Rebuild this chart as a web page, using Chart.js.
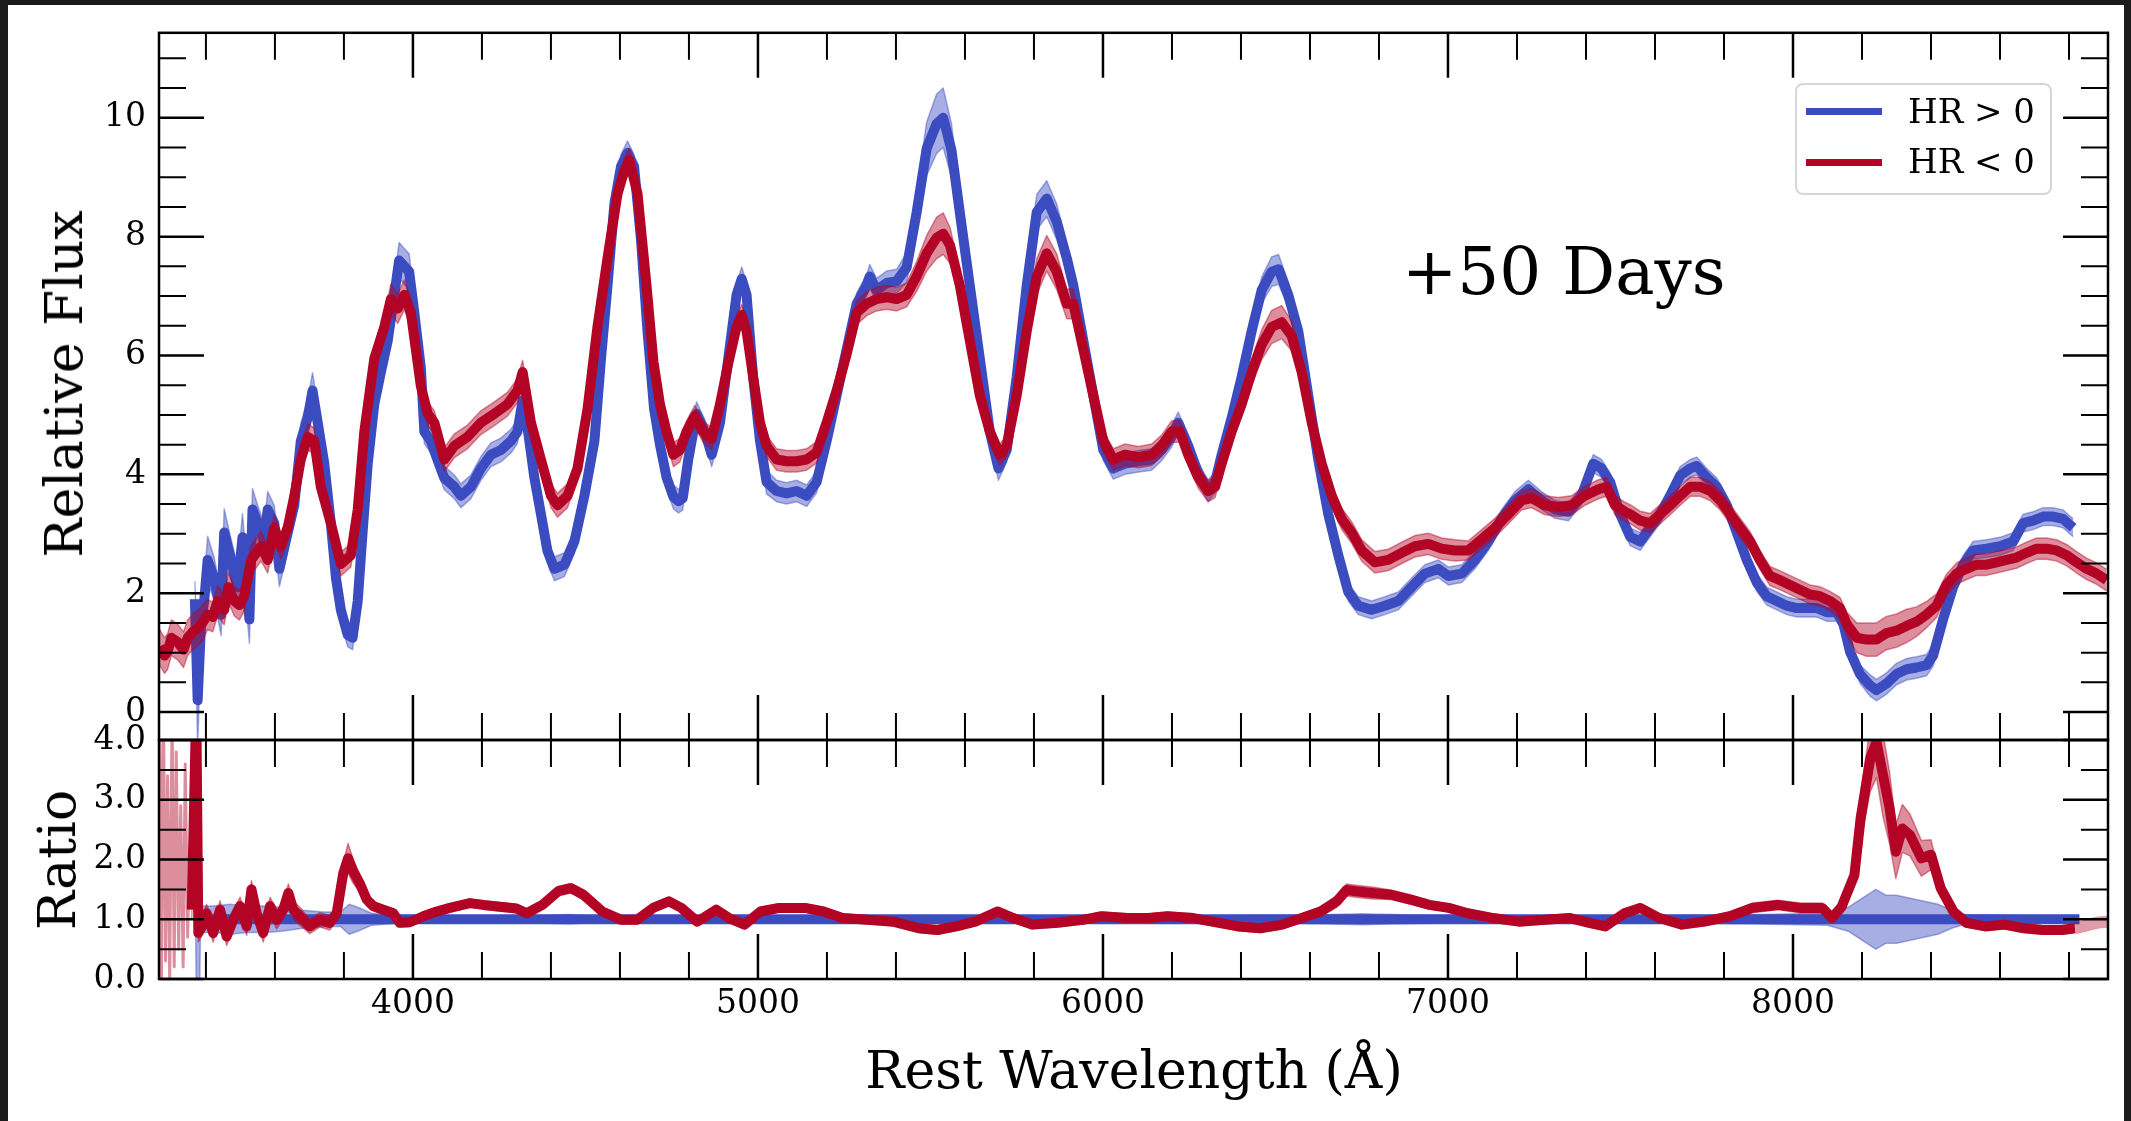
<!DOCTYPE html>
<html>
<head>
<meta charset="utf-8">
<title>+50 Days — HR &gt; 0 vs HR &lt; 0</title>
<script src="https://cdn.jsdelivr.net/npm/chart.js@4.4.2/dist/chart.umd.min.js"></script>
<style>
  html, body { margin: 0; padding: 0; width: 2131px; height: 1121px; overflow: hidden; background: #1b1b1b; }
  #paper { position: absolute; left: 8px; top: 5px; width: 2116px; height: 1116px; background: #fff; }
  canvas { position: absolute; left: 0; top: 0; }
  .txt { position: absolute; font-family: "DejaVu Serif", serif; color: #000; line-height: 1; white-space: nowrap; }
  .ylab { font-size: 52px; transform: translate(-50%, -50%) rotate(-90deg); }
  #legend { position: absolute; left: 1795px; top: 83px; width: 257px; height: 112px; box-sizing: border-box;
            border: 2.5px solid #d6d6d6; border-radius: 8px; background: rgba(255,255,255,0.8); }
  .swatch { position: absolute; left: 1806px; width: 76px; height: 7px; }
</style>
</head>
<body>
<div id="paper"></div>
<canvas id="fluxChart" width="2131" height="1121"></canvas>
<canvas id="ratioChart" width="2131" height="1121"></canvas>

<div class="txt ylab" style="left:64px; top:384px;">Relative Flux</div>
<div class="txt ylab" style="left:57px; top:860px;">Ratio</div>
<div class="txt" style="font-size:52px; left:1134px; top:1044px; transform:translateX(-50%);">Rest Wavelength (Å)</div>
<div class="txt" style="font-size:66px; left:1402px; top:239px;">+50 Days</div>

<div id="legend"></div>
<div class="swatch" style="top:108px; background:#3b4cc0;"></div>
<div class="swatch" style="top:159px; background:#b40426;"></div>
<div class="txt" style="font-size:34px; left:1908px; top:94px;">HR &gt; 0</div>
<div class="txt" style="font-size:34px; left:1908px; top:144px;">HR &lt; 0</div>

<script>
// ---- axis ticks -----------------------------------------------------------
const X_MIN = 3264, X_MAX = 8913;
const X_MAJOR = [4000, 5000, 6000, 7000, 8000];
const X_MINOR = [3400, 3600, 3800, 4200, 4400, 4600, 4800, 5200, 5400, 5600, 5800,
                 6200, 6400, 6600, 6800, 7200, 7400, 7600, 7800, 8200, 8400, 8600, 8800];
const FLUX_MAJOR = [0, 2, 4, 6, 8, 10];
const FLUX_MINOR = [0.5, 1, 1.5, 2.5, 3, 3.5, 4.5, 5, 5.5, 6.5, 7, 7.5, 8.5, 9, 9.5, 10.5, 11];
const RATIO_MAJOR = [0, 1, 2, 3, 4];
const RATIO_MINOR = [0.5, 1.5, 2.5, 3.5];

// ---- HR > 0 mean spectrum (blue) ------------------------------------------
const waveBlue = [
  3368, 3376, 3386, 3395, 3405, 3424, 3444, 3453, 3473, 3492,
  3506, 3526, 3535, 3550, 3569, 3579, 3598, 3613, 3637, 3656,
  3675, 3695, 3709, 3724, 3743, 3762, 3777, 3791, 3811, 3825,
  3840, 3854, 3869, 3888, 3907, 3927, 3946, 3960, 3975, 3989,
  4004, 4023, 4033, 4052, 4071, 4091, 4120, 4139, 4168, 4197,
  4226, 4255, 4284, 4303, 4318, 4332, 4352, 4371, 4390, 4410,
  4439, 4468, 4497, 4526, 4545, 4564, 4584, 4603, 4622, 4641,
  4661, 4680, 4699, 4716, 4735, 4755, 4770, 4782, 4798, 4822,
  4846, 4866, 4890, 4914, 4938, 4953, 4967, 4986, 5006, 5025,
  5054, 5083, 5112, 5141, 5170, 5199, 5228, 5257, 5286, 5315,
  5324, 5344, 5373, 5402, 5431, 5460, 5489, 5518, 5537, 5561,
  5585, 5614, 5643, 5672, 5697, 5721, 5750, 5779, 5808, 5837,
  5866, 5895, 5914, 5943, 5972, 6001, 6030, 6064, 6103, 6141,
  6170, 6199, 6218, 6247, 6276, 6305, 6325, 6344, 6373, 6402,
  6431, 6460, 6489, 6509, 6537, 6566, 6595, 6624, 6653, 6682,
  6711, 6740, 6779, 6817, 6856, 6894, 6933, 6972, 7001, 7040,
  7078, 7117, 7155, 7194, 7233, 7271, 7310, 7349, 7387, 7421,
  7445, 7470, 7499, 7528, 7557, 7586, 7615, 7644, 7673, 7702,
  7721, 7750, 7779, 7808, 7837, 7866, 7895, 7924, 7953, 7982,
  8011, 8040, 8069, 8098, 8127, 8146, 8165, 8194, 8223, 8242,
  8271, 8300, 8329, 8358, 8387, 8406, 8435, 8464, 8493, 8522,
  8561, 8600, 8638, 8667, 8696, 8725, 8754, 8783, 8812
];
const fluxBlue = [
  1.90, 0.20, 1.50, 1.87, 2.56, 2.25, 1.64, 3.02, 2.56, 2.10,
  2.94, 1.56, 3.41, 3.18, 2.87, 3.41, 3.18, 2.41, 3.02, 3.48,
  4.56, 4.95, 5.41, 4.87, 4.18, 3.18, 2.25, 1.72, 1.30, 1.25,
  1.87, 3.02, 4.18, 5.18, 5.72, 6.25, 7.02, 7.60, 7.50, 7.41,
  6.72, 5.79, 4.72, 4.56, 4.25, 3.94, 3.79, 3.64, 3.79, 4.10,
  4.33, 4.41, 4.56, 4.72, 5.25, 4.79, 3.94, 3.33, 2.71, 2.41,
  2.48, 2.87, 3.64, 4.56, 5.94, 7.18, 8.56, 9.18, 9.41, 9.18,
  7.95, 6.40, 5.10, 4.50, 3.95, 3.62, 3.55, 3.60, 4.25, 5.02,
  4.72, 4.33, 4.87, 5.95, 7.02, 7.29, 7.02, 5.64, 4.56, 3.87,
  3.72, 3.68, 3.72, 3.64, 3.87, 4.56, 5.33, 6.10, 6.87, 7.18,
  7.33, 7.10, 7.22, 7.25, 7.48, 8.41, 9.48, 9.90, 10.00, 9.45,
  8.41, 7.18, 5.95, 4.72, 4.10, 4.41, 5.64, 7.18, 8.41, 8.64,
  8.25, 7.64, 7.18, 6.25, 5.33, 4.41, 4.10, 4.18, 4.22, 4.25,
  4.41, 4.64, 4.87, 4.48, 4.02, 3.72, 3.87, 4.33, 4.95, 5.64,
  6.41, 7.10, 7.41, 7.45, 7.02, 6.41, 5.33, 4.25, 3.33, 2.64,
  2.02, 1.79, 1.72, 1.79, 1.87, 2.10, 2.33, 2.41, 2.29, 2.33,
  2.56, 2.87, 3.25, 3.56, 3.75, 3.56, 3.41, 3.37, 3.64, 4.18,
  4.10, 3.87, 3.33, 2.95, 2.87, 3.10, 3.33, 3.64, 3.98, 4.10,
  4.14, 3.95, 3.79, 3.48, 3.02, 2.56, 2.18, 1.95, 1.87, 1.79,
  1.75, 1.75, 1.75, 1.68, 1.68, 1.48, 1.02, 0.64, 0.45, 0.37,
  0.48, 0.64, 0.72, 0.75, 0.79, 0.95, 1.56, 2.10, 2.48, 2.72,
  2.75, 2.79, 2.87, 3.18, 3.22, 3.29, 3.29, 3.25, 3.10
];
const errBlue = [
  0.30, 0.80, 0.30, 0.35, 0.40, 0.35, 0.35, 0.40, 0.35, 0.35,
  0.40, 0.40, 0.35, 0.30, 0.30, 0.30, 0.30, 0.30, 0.30, 0.30,
  0.30, 0.30, 0.30, 0.30, 0.25, 0.20, 0.20, 0.20, 0.20, 0.20,
  0.20, 0.20, 0.20, 0.20, 0.20, 0.25, 0.30, 0.30, 0.30, 0.30,
  0.25, 0.20, 0.20, 0.20, 0.20, 0.20, 0.20, 0.20, 0.20, 0.20,
  0.20, 0.20, 0.20, 0.20, 0.20, 0.20, 0.20, 0.20, 0.20, 0.20,
  0.20, 0.20, 0.20, 0.20, 0.20, 0.20, 0.20, 0.20, 0.20, 0.20,
  0.20, 0.20, 0.20, 0.20, 0.20, 0.20, 0.20, 0.20, 0.20, 0.20,
  0.20, 0.20, 0.20, 0.20, 0.20, 0.20, 0.20, 0.20, 0.20, 0.20,
  0.18, 0.18, 0.18, 0.18, 0.18, 0.18, 0.18, 0.18, 0.18, 0.18,
  0.20, 0.20, 0.20, 0.20, 0.25, 0.35, 0.45, 0.50, 0.50, 0.45,
  0.35, 0.25, 0.20, 0.20, 0.20, 0.20, 0.20, 0.25, 0.30, 0.30,
  0.30, 0.25, 0.20, 0.20, 0.20, 0.18, 0.18, 0.18, 0.18, 0.18,
  0.18, 0.18, 0.18, 0.18, 0.18, 0.18, 0.18, 0.18, 0.18, 0.20,
  0.20, 0.22, 0.25, 0.25, 0.22, 0.20, 0.20, 0.18, 0.18, 0.18,
  0.15, 0.15, 0.15, 0.15, 0.15, 0.15, 0.15, 0.15, 0.15, 0.15,
  0.15, 0.15, 0.15, 0.15, 0.15, 0.15, 0.15, 0.15, 0.15, 0.15,
  0.15, 0.15, 0.15, 0.15, 0.15, 0.15, 0.15, 0.15, 0.15, 0.15,
  0.15, 0.15, 0.15, 0.15, 0.15, 0.15, 0.15, 0.15, 0.15, 0.15,
  0.15, 0.15, 0.15, 0.15, 0.15, 0.15, 0.15, 0.15, 0.18, 0.18,
  0.18, 0.18, 0.18, 0.18, 0.18, 0.18, 0.15, 0.15, 0.15, 0.15,
  0.15, 0.15, 0.15, 0.15, 0.15, 0.15, 0.15, 0.15, 0.15
];

// ---- HR < 0 mean spectrum (red) -------------------------------------------
const waveRed = [
  3265, 3280, 3289, 3300, 3318, 3335, 3347, 3362, 3376, 3390,
  3405, 3420, 3434, 3453, 3465, 3482, 3497, 3511, 3531, 3560,
  3579, 3598, 3617, 3637, 3656, 3675, 3695, 3714, 3733, 3762,
  3791, 3820, 3840, 3859, 3888, 3917, 3936, 3956, 3975, 3994,
  4023, 4043, 4062, 4091, 4120, 4158, 4197, 4236, 4274, 4303,
  4318, 4342, 4371, 4400, 4419, 4448, 4477, 4506, 4535, 4564,
  4593, 4612, 4627, 4651, 4677, 4697, 4716, 4735, 4755, 4774,
  4793, 4817, 4841, 4866, 4890, 4914, 4938, 4953, 4967, 4986,
  5006, 5025, 5054, 5083, 5112, 5141, 5170, 5199, 5228, 5257,
  5286, 5315, 5344, 5373, 5402, 5431, 5460, 5489, 5518, 5537,
  5557, 5585, 5614, 5643, 5672, 5701, 5721, 5750, 5779, 5808,
  5837, 5866, 5895, 5914, 5943, 5972, 6001, 6030, 6064, 6103,
  6141, 6170, 6199, 6223, 6247, 6276, 6305, 6325, 6344, 6373,
  6402, 6431, 6460, 6489, 6518, 6547, 6576, 6605, 6634, 6663,
  6692, 6721, 6750, 6788, 6827, 6866, 6904, 6943, 6982, 7020,
  7059, 7098, 7136, 7175, 7213, 7242, 7281, 7320, 7358, 7397,
  7436, 7460, 7484, 7513, 7528, 7557, 7586, 7615, 7644, 7673,
  7702, 7731, 7760, 7789, 7818, 7847, 7876, 7904, 7933, 7962,
  7991, 8020, 8049, 8078, 8107, 8136, 8156, 8185, 8213, 8242,
  8271, 8300, 8329, 8358, 8387, 8416, 8445, 8474, 8503, 8532,
  8561, 8590, 8619, 8648, 8677, 8706, 8735, 8764, 8793, 8822,
  8851, 8880, 8909
];
const fluxRed = [
  1.10, 0.95, 1.02, 1.25, 1.18, 1.05, 1.25, 1.35, 1.41, 1.50,
  1.64, 1.60, 1.87, 1.72, 2.10, 1.87, 1.80, 1.95, 2.56, 2.79,
  2.56, 3.10, 2.79, 3.10, 3.63, 4.25, 4.63, 4.56, 3.79, 3.18,
  2.49, 2.64, 3.41, 4.72, 5.95, 6.48, 6.95, 6.79, 7.02, 6.72,
  5.48, 5.02, 4.87, 4.25, 4.48, 4.63, 4.87, 5.02, 5.18, 5.41,
  5.72, 4.87, 4.25, 3.64, 3.48, 3.64, 4.10, 5.10, 6.49, 7.64,
  8.72, 9.10, 9.29, 8.72, 7.18, 5.90, 5.18, 4.72, 4.33, 4.41,
  4.72, 4.98, 4.72, 4.60, 5.18, 5.87, 6.48, 6.68, 6.41, 5.64,
  4.87, 4.48, 4.25, 4.22, 4.22, 4.25, 4.37, 4.87, 5.41, 6.02,
  6.72, 6.87, 6.95, 6.98, 6.95, 7.02, 7.33, 7.72, 7.98, 8.05,
  7.85, 7.18, 6.25, 5.33, 4.72, 4.33, 4.48, 5.33, 6.41, 7.33,
  7.72, 7.41, 6.87, 6.87, 6.10, 5.33, 4.56, 4.25, 4.33, 4.29,
  4.33, 4.48, 4.72, 4.72, 4.33, 3.95, 3.72, 3.79, 4.18, 4.72,
  5.18, 5.72, 6.18, 6.48, 6.56, 6.33, 5.72, 4.87, 4.18, 3.64,
  3.25, 3.02, 2.72, 2.52, 2.56, 2.68, 2.79, 2.83, 2.75, 2.72,
  2.72, 2.91, 3.10, 3.33, 3.56, 3.60, 3.48, 3.45, 3.48, 3.64,
  3.75, 3.79, 3.48, 3.37, 3.33, 3.22, 3.18, 3.33, 3.48, 3.64,
  3.79, 3.79, 3.72, 3.56, 3.33, 3.10, 2.87, 2.56, 2.29, 2.22,
  2.14, 2.06, 1.98, 1.95, 1.87, 1.75, 1.48, 1.25, 1.22, 1.22,
  1.33, 1.37, 1.45, 1.52, 1.64, 1.79, 2.14, 2.33, 2.41, 2.48,
  2.48, 2.52, 2.56, 2.60, 2.68, 2.75, 2.75, 2.72, 2.64, 2.52,
  2.41, 2.33, 2.22
];
const errRed = [
  0.30, 0.30, 0.30, 0.30, 0.30, 0.30, 0.30, 0.30, 0.30, 0.30,
  0.25, 0.25, 0.25, 0.25, 0.25, 0.25, 0.25, 0.25, 0.25, 0.25,
  0.22, 0.22, 0.22, 0.22, 0.22, 0.22, 0.22, 0.22, 0.22, 0.22,
  0.20, 0.20, 0.20, 0.20, 0.20, 0.22, 0.25, 0.25, 0.25, 0.25,
  0.20, 0.20, 0.20, 0.20, 0.20, 0.20, 0.20, 0.20, 0.20, 0.20,
  0.20, 0.20, 0.20, 0.20, 0.20, 0.20, 0.20, 0.20, 0.20, 0.20,
  0.20, 0.20, 0.20, 0.20, 0.20, 0.20, 0.20, 0.20, 0.20, 0.20,
  0.18, 0.18, 0.18, 0.18, 0.18, 0.18, 0.18, 0.18, 0.18, 0.18,
  0.18, 0.18, 0.18, 0.18, 0.18, 0.18, 0.18, 0.18, 0.18, 0.18,
  0.20, 0.20, 0.20, 0.20, 0.20, 0.20, 0.25, 0.30, 0.35, 0.35,
  0.30, 0.25, 0.20, 0.20, 0.20, 0.18, 0.18, 0.20, 0.25, 0.30,
  0.30, 0.30, 0.25, 0.25, 0.20, 0.18, 0.18, 0.18, 0.18, 0.18,
  0.18, 0.18, 0.18, 0.18, 0.18, 0.18, 0.18, 0.18, 0.18, 0.18,
  0.20, 0.22, 0.25, 0.28, 0.28, 0.25, 0.20, 0.18, 0.18, 0.18,
  0.18, 0.18, 0.18, 0.18, 0.18, 0.18, 0.18, 0.18, 0.18, 0.18,
  0.16, 0.16, 0.16, 0.16, 0.16, 0.16, 0.16, 0.16, 0.16, 0.16,
  0.16, 0.16, 0.16, 0.16, 0.16, 0.16, 0.16, 0.16, 0.16, 0.16,
  0.16, 0.16, 0.16, 0.16, 0.16, 0.16, 0.16, 0.16, 0.16, 0.16,
  0.16, 0.16, 0.16, 0.16, 0.16, 0.18, 0.20, 0.25, 0.28, 0.28,
  0.28, 0.28, 0.28, 0.25, 0.22, 0.20, 0.18, 0.18, 0.18, 0.18,
  0.18, 0.18, 0.18, 0.18, 0.18, 0.18, 0.18, 0.18, 0.18, 0.18,
  0.18, 0.18, 0.18
];

// ---- ratio panel ----------------------------------------------------------
const waveRatioRed = [
  3359, 3372, 3378, 3386, 3402, 3421, 3441, 3460, 3479, 3499,
  3518, 3532, 3547, 3566, 3586, 3605, 3624, 3639, 3653, 3672,
  3701, 3730, 3759, 3779, 3798, 3812, 3827, 3846, 3866, 3885,
  3914, 3943, 3962, 3991, 4030, 4069, 4107, 4165, 4204, 4252,
  4300, 4330, 4375, 4421, 4458, 4494, 4549, 4604, 4650, 4696,
  4742, 4778, 4824, 4879, 4916, 4961, 5007, 5062, 5136, 5190,
  5245, 5319, 5392, 5465, 5520, 5575, 5630, 5694, 5740, 5795,
  5868, 5941, 5996, 6070, 6131, 6187, 6261, 6317, 6391, 6456,
  6520, 6576, 6631, 6678, 6706, 6733, 6780, 6835, 6891, 6946,
  7002, 7057, 7131, 7206, 7280, 7354, 7409, 7456, 7511, 7557,
  7613, 7678, 7743, 7817, 7882, 7956, 8020, 8085, 8113, 8141,
  8178, 8196, 8224, 8242, 8261, 8280, 8298, 8317, 8339, 8372,
  8400, 8428, 8465, 8502, 8557, 8613, 8669, 8724, 8780, 8817
];
const ratioRed = [
  1.16, 4.60, 0.77, 0.85, 1.10, 0.77, 1.16, 0.71, 0.99, 1.22,
  0.88, 1.50, 1.10, 0.77, 1.22, 0.99, 1.16, 1.44, 1.16, 1.05,
  0.88, 0.99, 0.94, 1.10, 1.77, 2.02, 1.80, 1.60, 1.33, 1.22,
  1.16, 1.10, 0.94, 0.95, 1.05, 1.13, 1.19, 1.27, 1.24, 1.21,
  1.18, 1.10, 1.24, 1.47, 1.52, 1.41, 1.13, 0.99, 0.99, 1.19,
  1.30, 1.19, 0.96, 1.16, 1.02, 0.91, 1.13, 1.19, 1.19, 1.13,
  1.02, 0.99, 0.96, 0.85, 0.82, 0.88, 0.96, 1.13, 1.02, 0.91,
  0.94, 0.99, 1.05, 1.02, 1.02, 1.05, 1.02, 0.96, 0.88, 0.85,
  0.91, 1.02, 1.13, 1.30, 1.49, 1.47, 1.44, 1.41, 1.33, 1.24,
  1.19, 1.10, 1.02, 0.96, 0.99, 1.02, 0.94, 0.88, 1.10, 1.19,
  1.02, 0.91, 0.96, 1.05, 1.19, 1.24, 1.19, 1.19, 1.02, 1.21,
  1.74, 2.69, 3.69, 3.97, 3.41, 2.86, 2.13, 2.52, 2.41, 2.02,
  2.08, 1.52, 1.13, 0.94, 0.88, 0.91, 0.85, 0.82, 0.82, 0.85
];
const errRatioRed = [
  0.15, 0.15, 0.15, 0.15, 0.15, 0.15, 0.15, 0.15, 0.15, 0.15,
  0.15, 0.15, 0.15, 0.15, 0.15, 0.15, 0.15, 0.15, 0.15, 0.15,
  0.12, 0.12, 0.12, 0.12, 0.18, 0.25, 0.20, 0.15, 0.10, 0.08,
  0.07, 0.07, 0.07, 0.07, 0.07, 0.07, 0.07, 0.07, 0.07, 0.07,
  0.07, 0.07, 0.07, 0.08, 0.08, 0.08, 0.07, 0.07, 0.07, 0.07,
  0.07, 0.07, 0.07, 0.07, 0.07, 0.07, 0.07, 0.07, 0.07, 0.07,
  0.07, 0.07, 0.07, 0.07, 0.07, 0.07, 0.07, 0.07, 0.07, 0.07,
  0.07, 0.07, 0.07, 0.07, 0.07, 0.07, 0.07, 0.07, 0.07, 0.07,
  0.07, 0.07, 0.08, 0.10, 0.10, 0.10, 0.10, 0.08, 0.08, 0.07,
  0.07, 0.07, 0.07, 0.07, 0.07, 0.07, 0.07, 0.07, 0.07, 0.07,
  0.07, 0.07, 0.07, 0.07, 0.08, 0.08, 0.08, 0.08, 0.08, 0.10,
  0.15, 0.40, 0.55, 0.60, 0.70, 0.60, 0.45, 0.40, 0.35, 0.30,
  0.25, 0.15, 0.08, 0.07, 0.07, 0.07, 0.07, 0.07, 0.07, 0.07
];
// noisy blue-edge stripes (ratio ill-defined where HR > 0 has no flux)
const waveRatioNoise = [3266, 3271, 3277, 3283, 3289, 3295, 3302, 3308, 3314, 3321, 3327, 3334, 3340, 3347, 3353];
const ratioNoise = [4.5, 0.0, 4.5, 0.3, 3.4, 0.0, 4.5, 0.2, 3.8, 0.5, 2.9, 0.2, 3.6, 0.7, 2.2];
// faint red tail past the end of the HR > 0 spectrum
const waveRatioTail = [8817, 8840, 8865, 8890, 8913];
const ratioTail = [0.85, 0.88, 0.92, 0.95, 0.96];

const waveRatioBlue = [
  3370, 3377, 3384, 3420, 3470, 3520, 3570, 3620, 3680, 3740,
  3790, 3815, 3840, 3880, 3950, 4100, 4350, 4450, 4550, 5000,
  5500, 6000, 6600, 6750, 6900, 7200, 7600, 7900, 8100, 8160,
  8200, 8240, 8270, 8300, 8340, 8380, 8420, 8460, 8500, 8600,
  8700, 8830
];
const ratioBlue = [
  1, 1, 1, 1, 1, 1, 1, 1, 1, 1,
  1, 1, 1, 1, 1, 1, 1, 1, 1, 1,
  1, 1, 1, 1, 1, 1, 1, 1, 1, 1,
  1, 1, 1, 1, 1, 1, 1, 1, 1, 1,
  1, 1
];
const errRatioBlue = [
  0.22, 3.50, 0.22, 0.22, 0.25, 0.22, 0.22, 0.20, 0.15, 0.12,
  0.12, 0.25, 0.20, 0.10, 0.07, 0.05, 0.06, 0.08, 0.05, 0.05,
  0.06, 0.05, 0.07, 0.09, 0.07, 0.05, 0.06, 0.08, 0.10, 0.20,
  0.35, 0.50, 0.40, 0.40, 0.35, 0.30, 0.25, 0.15, 0.08, 0.07,
  0.06, 0.06
];

// ---- helpers ---------------------------------------------------------------
const BLUE = '59,76,192', RED = '180,4,38';
const pts = (w, v, e = null, s = 0) => w.map((x, i) => ({ x, y: e ? v[i] + s * e[i] : v[i] }));

function series(w, v, e, rgb, base, width) {
  return [
    { data: pts(w, v, e, -1), borderColor: `rgba(${rgb},0.45)`, borderWidth: 1.5, fill: false, order: base + 2 },
    { data: pts(w, v, e, 1), borderColor: `rgba(${rgb},0.45)`, borderWidth: 1.5, fill: '-1',
      backgroundColor: `rgba(${rgb},0.45)`, order: base + 1 },
    { data: pts(w, v), borderColor: `rgb(${rgb})`, borderWidth: width, fill: false, order: base },
  ];
}

// inward ticks on all four sides + frame, like the matplotlib original
function frameTicks(yMajor, yMinor) {
  return {
    id: 'frameTicks',
    afterDraw(chart) {
      const { ctx, chartArea: a, scales } = chart;
      ctx.save();
      ctx.strokeStyle = '#000';
      const marks = (vals, len, lw, horizontal) => {
        ctx.lineWidth = lw;
        ctx.beginPath();
        vals.forEach(v => {
          if (horizontal) {
            const p = scales.x.getPixelForValue(v);
            ctx.moveTo(p, a.top); ctx.lineTo(p, a.top + len);
            ctx.moveTo(p, a.bottom); ctx.lineTo(p, a.bottom - len);
          } else {
            const p = scales.y.getPixelForValue(v);
            ctx.moveTo(a.left, p); ctx.lineTo(a.left + len, p);
            ctx.moveTo(a.right, p); ctx.lineTo(a.right - len, p);
          }
        });
        ctx.stroke();
      };
      marks(X_MAJOR, 45, 2.5, true);
      marks(X_MINOR, 27, 2, true);
      marks(yMajor, 45, 2.5, false);
      marks(yMinor, 27, 2, false);
      ctx.lineWidth = 2.5;
      ctx.strokeRect(a.left, a.top, a.right - a.left, a.bottom - a.top);
      ctx.restore();
    }
  };
}

// scale boxes get a fixed size so the plot area lands exactly where the original has it
function xScale(showLabels, boxHeight) {
  return {
    type: 'linear', min: X_MIN, max: X_MAX,
    grid: { display: false, drawTicks: false }, border: { display: false },
    ticks: { display: showLabels, padding: 6, maxRotation: 0, autoSkip: false, callback: v => String(v) },
    afterBuildTicks: s => { s.ticks = X_MAJOR.map(value => ({ value })); },
    afterFit: s => { s.height = boxHeight; },
  };
}

function yScale(min, max, major, fmt) {
  return {
    type: 'linear', min, max,
    grid: { display: false, drawTicks: false }, border: { display: false },
    ticks: { padding: 13, autoSkip: false, callback: fmt },
    afterBuildTicks: s => { s.ticks = major.map(value => ({ value })); },
    afterFit: s => { s.width = 159; },
  };
}

Chart.defaults.font.family = '"DejaVu Serif", serif';
Chart.defaults.font.size = 33;
Chart.defaults.color = '#000';

const common = {
  responsive: false, animation: false, events: [], devicePixelRatio: 1,
  plugins: { legend: { display: false }, tooltip: { enabled: false } },
  elements: { point: { radius: 0 }, line: { tension: 0, borderJoinStyle: 'round' } },
  datasets: { line: { clip: 0 } },
};

// ---- upper panel: relative flux -------------------------------------------
new Chart(document.getElementById('fluxChart'), {
  type: 'line',
  data: {
    datasets: [
      ...series(waveRed, fluxRed, errRed, RED, 0, 10),
      ...series(waveBlue, fluxBlue, errBlue, BLUE, 3, 10),
    ]
  },
  options: {
    ...common,
    layout: { padding: { left: 0, top: 31, right: 23, bottom: 381 } },
    scales: { x: xScale(false, 0), y: yScale(-0.47, 11.43, FLUX_MAJOR, v => String(v)) },
  },
  plugins: [frameTicks(FLUX_MAJOR, FLUX_MINOR)],
});

// ---- lower panel: ratio ------------------------------------------------------
new Chart(document.getElementById('ratioChart'), {
  type: 'line',
  data: {
    datasets: [
      ...series(waveRatioRed, ratioRed, errRatioRed, RED, 0, 10),
      { data: pts(waveRatioNoise, ratioNoise), borderColor: `rgba(${RED},0.45)`, borderWidth: 3, fill: false, order: 3 },
      { data: pts(waveRatioTail, ratioTail), borderColor: `rgba(${RED},0.4)`, borderWidth: 12, fill: false, order: 3 },
      ...series(waveRatioBlue, ratioBlue, errRatioBlue, BLUE, 4, 10),
    ]
  },
  options: {
    ...common,
    layout: { padding: { left: 0, top: 740, right: 23, bottom: 0 } },
    scales: { x: xScale(true, 142), y: yScale(0, 4, RATIO_MAJOR, v => v.toFixed(1)) },
  },
  plugins: [frameTicks(RATIO_MAJOR, RATIO_MINOR)],
});
</script>
</body>
</html>
